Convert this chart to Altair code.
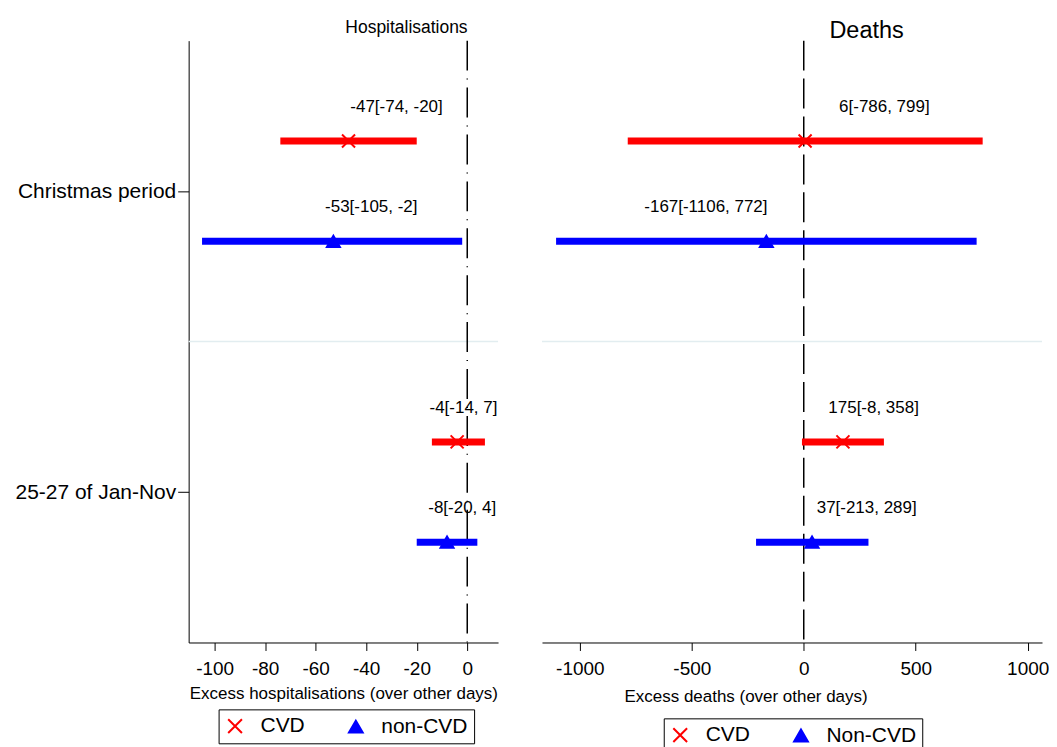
import altair as alt
import pandas as pd

periods = ["Christmas period", "25-27 of Jan-Nov"]
hosp_groups = ["CVD", "non-CVD"]
death_groups = ["CVD", "Non-CVD"]

# order: Christmas CVD, Christmas non-CVD, Jan-Nov CVD, Jan-Nov non-CVD
hosp_est = [-47, -53, -4, -8]
hosp_lo = [-74, -105, -14, -20]
hosp_hi = [-20, -2, 7, 4]
hosp_label_x = [-28, -38, -1.5, -2]

death_est = [6, -167, 175, 37]
death_lo = [-786, -1106, -8, -213]
death_hi = [799, 772, 358, 289]
death_label_x = [360, -437, 312, 281]

hosp_ticks = [-100, -80, -60, -40, -20, 0]
death_ticks = [-1000, -500, 0, 500, 1000]

FONT = "Liberation Sans"
XPATH = "M-1,-1L1,1M1,-1L-1,1"
RED = "#ff0000"
BLUE = "#0000ff"


def make_df(groups, est, lo, hi, lx):
    rows = []
    for i in range(len(est)):
        p, g = divmod(i, 2)
        rows.append(dict(period=periods[p], group=groups[g], row=p * 3 + g + 1,
                         est=est[i], lo=lo[i], hi=hi[i], lx=lx[i],
                         label=f"{est[i]}[{lo[i]}, {hi[i]}]"))
    return pd.DataFrame(rows)


def panel(df, groups, domain, ticks, xtitle, title, title_dx, title_size,
          title_offset, dash, show_y, legend_x, legend_y, width,
          xtitle_pad, xtitle_x=None):
    yscale = alt.Scale(domain=[0, 6], reverse=True, nice=False, zero=False)
    xscale = alt.Scale(domain=domain, nice=False, zero=False)
    if show_y:
        expr = f"datum.value < 3 ? '{periods[0]}' : '{periods[1]}'"
        y_axis = alt.Axis(values=[1.5, 4.5], labelExpr=expr, title=None,
                          tickSize=11, labelPadding=2, labelFont=FONT,
                          labelFontSize=21, grid=False, domain=True,
                          domainColor="black", tickColor="black", labelColor="black")
    else:
        y_axis = alt.Axis(domain=False, ticks=False, labels=False, grid=False,
                          title=None)
    ax_kw = dict(values=ticks, title=xtitle, labelExpr="'' + datum.value",
                 titleFont=FONT, titleFontSize=17, titleFontWeight="normal",
                 labelFont=FONT, labelFontSize=19, tickSize=8, labelPadding=9,
                 titlePadding=xtitle_pad, domain=True, domainColor="black",
                 tickColor="black", labelColor="black", titleColor="black", grid=False)
    if xtitle_x is not None:
        ax_kw["titleX"] = xtitle_x
    x_axis = alt.Axis(**ax_kw)

    leg = alt.Legend(title=None, orient="none", legendX=legend_x, legendY=legend_y,
                     direction="horizontal", strokeColor="black", padding=6,
                     labelFont=FONT, labelFontSize=21, labelColor="black",
                     labelOffset=15, columnPadding=39, symbolSize=190,
                     symbolStrokeWidth=2)
    stroke_scale = alt.Scale(domain=groups, range=[RED, BLUE])

    base = alt.Chart(df)
    divider = alt.Chart(pd.DataFrame({"div": [3]})).mark_rule(
        color="#e2edf0", strokeWidth=1.5).encode(y=alt.Y("div:Q", scale=yscale, axis=y_axis))
    zero = alt.Chart(pd.DataFrame({"ref": [0]})).mark_rule(
        color="black", strokeWidth=1.5, strokeDash=dash).encode(
        x=alt.X("ref:Q", scale=xscale, axis=x_axis))
    bars = base.mark_rule(strokeWidth=7).encode(
        x=alt.X("lo:Q", scale=xscale, axis=x_axis),
        x2="hi:Q",
        y=alt.Y("row:Q", scale=yscale, axis=y_axis),
        stroke=alt.Stroke("group:N", scale=stroke_scale, legend=leg),
    )
    pts = base.mark_point(strokeWidth=2, opacity=1, size=170).encode(
        x=alt.X("est:Q", scale=xscale, axis=x_axis),
        y=alt.Y("row:Q", scale=yscale, axis=y_axis),
        shape=alt.Shape("group:N", scale=alt.Scale(domain=groups, range=[XPATH, "triangle-up"]), legend=leg),
        fill=alt.Fill("group:N", scale=alt.Scale(domain=groups, range=["transparent", BLUE]), legend=leg),
        stroke=alt.Stroke("group:N", scale=stroke_scale, legend=leg),
    )
    labels = base.mark_text(font=FONT, fontSize=17, dy=-34, color="black").encode(
        x=alt.X("lx:Q", scale=xscale, axis=x_axis),
        y=alt.Y("row:Q", scale=yscale, axis=y_axis),
        text="label:N")

    return alt.layer(divider, zero, bars, pts, labels).properties(
        width=width, height=603,
        view=alt.ViewBackground(stroke="transparent", strokeWidth=0),
        title=alt.TitleParams(text=title, anchor="start", frame="group", dx=title_dx,
                              font=FONT, fontSize=title_size, fontWeight="normal",
                              color="black", offset=title_offset, baseline="alphabetic"),
    )


hosp_df = make_df(hosp_groups, hosp_est, hosp_lo, hosp_hi, hosp_label_x)
death_df = make_df(death_groups, death_est, death_lo, death_hi, death_label_x)

left = panel(hosp_df, hosp_groups, [-110.3, 12.2], hosp_ticks,
             "Excess hospitalisations (over other days)", "Hospitalisations",
             157, 17.5, -11, [30, 8, 1, 8], True, 30, 670, 310, 7)
right = panel(death_df, death_groups, [-1169, 1064], death_ticks,
              "Excess deaths (over other days)", "Deaths",
              288, 23.5, -22, [30, 8], False, 122, 679, 501, 10, xtitle_x=204)

chart = alt.hconcat(left, right, spacing=42).resolve_scale(
    x="independent", y="independent", shape="independent", fill="independent",
    stroke="independent"
).resolve_legend(shape="independent", fill="independent", stroke="independent").properties(
    padding={"left": 6, "top": 10, "right": 0, "bottom": 0}
).configure_view(strokeWidth=0, stroke="transparent").configure(background="white")

chart.save("out.html", embed_options={"renderer": "svg", "actions": False})
